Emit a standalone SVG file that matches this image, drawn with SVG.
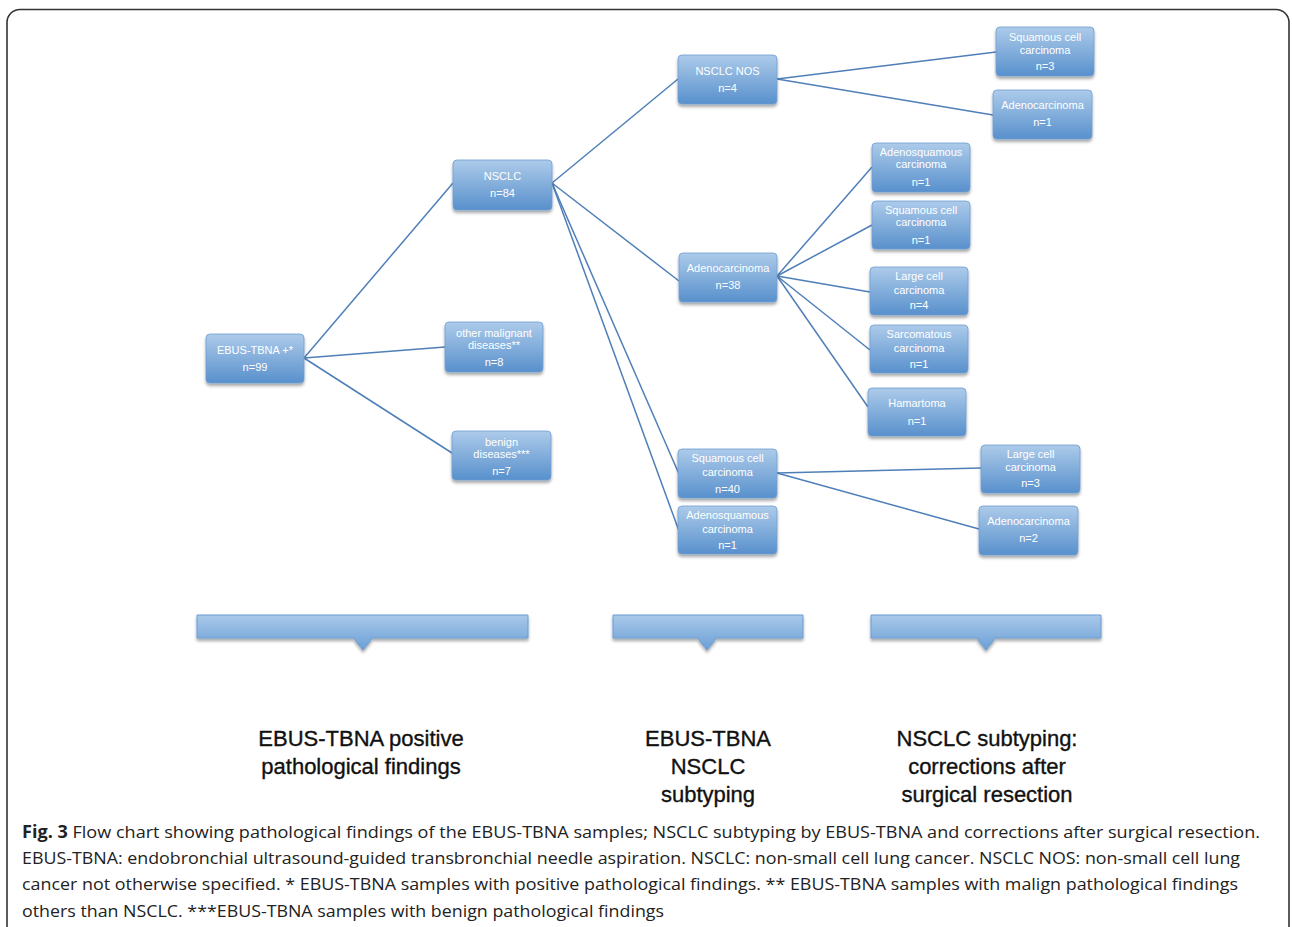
<svg xmlns="http://www.w3.org/2000/svg" width="1292" height="927" viewBox="0 0 1292 927">
<defs>
<linearGradient id="g" x1="0" y1="0" x2="0" y2="1">
<stop offset="0" stop-color="#adcbea"/>
<stop offset="1" stop-color="#5890cc"/>
</linearGradient>
<linearGradient id="gb" x1="0" y1="0" x2="0" y2="1">
<stop offset="0" stop-color="#a9c9ea"/>
<stop offset="1" stop-color="#6b9fd6"/>
</linearGradient>
<filter id="sh" x="-10%" y="-10%" width="130%" height="140%">
<feDropShadow dx="0" dy="2.5" stdDeviation="1.5" flood-color="#000" flood-opacity="0.35"/>
</filter>
</defs>
<style>
.n rect{fill:url(#g);stroke:#6e9fd3;stroke-width:0.8;filter:url(#sh)}
.n text{font-family:"Liberation Sans",Arial,sans-serif;font-size:11px;fill:#fff;text-anchor:middle}
.c line{stroke:#4f7fb8;stroke-width:1.5;fill:none}
.bar{fill:url(#gb);stroke:#6a9dd3;stroke-width:1;filter:url(#sh)}
.t{font-family:"Liberation Sans",Arial,sans-serif;font-size:22px;fill:#111;stroke:#111;stroke-width:0.35;text-anchor:middle}
.cap{font-family:"Open Sans","Noto Sans",sans-serif;font-size:17px;fill:#222}
</style>
<rect x="7" y="9.5" width="1282" height="940" rx="13" fill="#fff" stroke="#333" stroke-width="1.6"/>

<g id="connectors" class="c">
<line x1="304" y1="358" x2="453" y2="183"/>
<line x1="304" y1="358" x2="445" y2="347"/>
<line x1="304" y1="358" x2="452" y2="453"/>
<line x1="552" y1="183" x2="678" y2="79"/>
<line x1="552" y1="183" x2="679" y2="281"/>
<line x1="552" y1="183" x2="679" y2="474"/>
<line x1="552" y1="183" x2="679" y2="531"/>
<line x1="777" y1="79" x2="996" y2="52"/>
<line x1="777" y1="79" x2="993" y2="115"/>
<line x1="777" y1="276" x2="872" y2="167"/>
<line x1="777" y1="276" x2="872" y2="225"/>
<line x1="777" y1="276" x2="870" y2="292"/>
<line x1="777" y1="276" x2="870" y2="350"/>
<line x1="777" y1="276" x2="868" y2="407"/>
<line x1="777" y1="473" x2="981" y2="468"/>
<line x1="777" y1="473" x2="979" y2="529"/>
</g>

<g id="ebus" class="n"><rect x="206" y="334" width="98" height="49" rx="4"/><text x="255" y="354">EBUS-TBNA +*</text><text x="255" y="371">n=99</text></g>
<g id="nsclc" class="n"><rect x="453" y="160" width="99" height="50" rx="4"/><text x="502.5" y="180">NSCLC</text><text x="502.5" y="197">n=84</text></g>
<g id="other" class="n"><rect x="445" y="322" width="98" height="50" rx="4"/><text x="494" y="337">other malignant</text><text x="494" y="349">diseases**</text><text x="494" y="366">n=8</text></g>
<g id="benign" class="n"><rect x="452" y="431" width="99" height="49" rx="4"/><text x="501.5" y="446">benign</text><text x="501.5" y="458">diseases***</text><text x="501.5" y="475">n=7</text></g>
<g id="nos" class="n"><rect x="678" y="55" width="99" height="49" rx="4"/><text x="727.5" y="75">NSCLC NOS</text><text x="727.5" y="92">n=4</text></g>
<g id="nos-sq" class="n"><rect x="996" y="27" width="98" height="49" rx="4"/><text x="1045" y="41">Squamous cell</text><text x="1045" y="54">carcinoma</text><text x="1045" y="70">n=3</text></g>
<g id="nos-ad" class="n"><rect x="993" y="90" width="99" height="49" rx="4"/><text x="1042.5" y="109">Adenocarcinoma</text><text x="1042.5" y="126">n=1</text></g>
<g id="adeno" class="n"><rect x="679" y="253" width="98" height="49" rx="4"/><text x="728" y="272">Adenocarcinoma</text><text x="728" y="289">n=38</text></g>
<g id="ad-asq" class="n"><rect x="872" y="143" width="98" height="49" rx="4"/><text x="921" y="156">Adenosquamous</text><text x="921" y="168">carcinoma</text><text x="921" y="186">n=1</text></g>
<g id="ad-sq" class="n"><rect x="872" y="201" width="98" height="48" rx="4"/><text x="921" y="214">Squamous cell</text><text x="921" y="226">carcinoma</text><text x="921" y="244">n=1</text></g>
<g id="ad-lc" class="n"><rect x="870" y="267" width="98" height="48" rx="4"/><text x="919" y="280">Large cell</text><text x="919" y="294">carcinoma</text><text x="919" y="309">n=4</text></g>
<g id="ad-sa" class="n"><rect x="870" y="325" width="98" height="48" rx="4"/><text x="919" y="338">Sarcomatous</text><text x="919" y="352">carcinoma</text><text x="919" y="368">n=1</text></g>
<g id="ad-ha" class="n"><rect x="868" y="388" width="98" height="48" rx="4"/><text x="917" y="407">Hamartoma</text><text x="917" y="425">n=1</text></g>
<g id="sq" class="n"><rect x="678" y="449" width="99" height="49" rx="4"/><text x="727.5" y="462">Squamous cell</text><text x="727.5" y="476">carcinoma</text><text x="727.5" y="493">n=40</text></g>
<g id="asq" class="n"><rect x="678" y="506" width="99" height="48" rx="4"/><text x="727.5" y="519">Adenosquamous</text><text x="727.5" y="533">carcinoma</text><text x="727.5" y="549">n=1</text></g>
<g id="sq-lc" class="n"><rect x="981" y="445" width="99" height="48" rx="4"/><text x="1030.5" y="458">Large cell</text><text x="1030.5" y="471">carcinoma</text><text x="1030.5" y="487">n=3</text></g>
<g id="sq-ad" class="n"><rect x="979" y="506" width="99" height="49" rx="4"/><text x="1028.5" y="525">Adenocarcinoma</text><text x="1028.5" y="542">n=2</text></g>

<g id="bars">
<path class="bar" d="M197,615 H528 V638 H371 V640 L363,650 L355,640 V638 H197 Z"/>
<path class="bar" d="M613,615 H803 V638 H715 V640 L707,650 L699,640 V638 H613 Z"/>
<path class="bar" d="M871,615 H1101 V638 H994 V640 L986,650 L978,640 V638 H871 Z"/>
</g>

<g id="titles">
<text class="t" x="361" y="746">EBUS-TBNA positive</text>
<text class="t" x="361" y="774">pathological findings</text>
<text class="t" x="708" y="746">EBUS-TBNA</text>
<text class="t" x="708" y="774">NSCLC</text>
<text class="t" x="708" y="802">subtyping</text>
<text class="t" x="987" y="746">NSCLC subtyping:</text>
<text class="t" x="987" y="774">corrections after</text>
<text class="t" x="987" y="802">surgical resection</text>
</g>

<g id="caption">
<text class="cap" x="22" y="838" textLength="1238" lengthAdjust="spacingAndGlyphs"><tspan font-weight="bold">Fig. 3</tspan> Flow chart showing pathological findings of the EBUS-TBNA samples; NSCLC subtyping by EBUS-TBNA and corrections after surgical resection.</text>
<text class="cap" x="22" y="864" textLength="1218" lengthAdjust="spacingAndGlyphs">EBUS-TBNA: endobronchial ultrasound-guided transbronchial needle aspiration. NSCLC: non-small cell lung cancer. NSCLC NOS: non-small cell lung</text>
<text class="cap" x="22" y="890" textLength="1216" lengthAdjust="spacingAndGlyphs">cancer not otherwise specified. * EBUS-TBNA samples with positive pathological findings. ** EBUS-TBNA samples with malign pathological findings</text>
<text class="cap" x="22" y="917" textLength="642" lengthAdjust="spacingAndGlyphs">others than NSCLC. ***EBUS-TBNA samples with benign pathological findings</text>
</g>
</svg>
